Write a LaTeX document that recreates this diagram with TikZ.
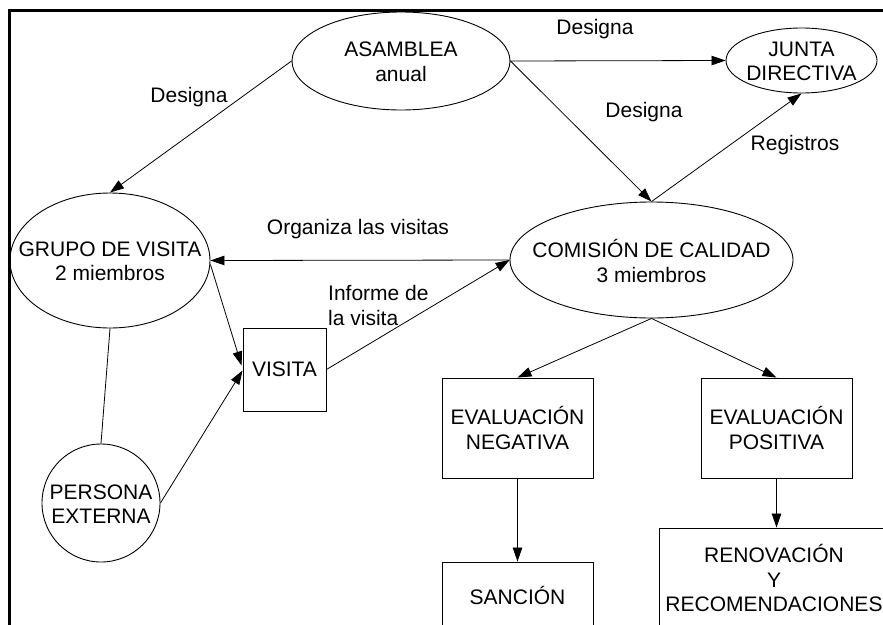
\documentclass[tikz,border=0pt]{standalone}
\usepackage{fontspec}
\setmainfont{Liberation Sans}
\usetikzlibrary{shapes.geometric,arrows.meta,calc}
\begin{document}
\begin{tikzpicture}[x=1pt,y=-1pt,
  every node/.style={font=\fontsize{21}{24.5}\selectfont},
  ell/.style={draw, ellipse, line width=0.9pt, inner sep=0pt},
  circ/.style={draw, circle, line width=0.9pt, inner sep=0pt},
  boxnode/.style={draw, rectangle, line width=0.9pt, inner sep=0pt, align=center},
  txt/.style={inner sep=0pt, align=center},
  arr/.style={line width=0.8pt, -{Triangle[length=14pt,width=9.5pt]}},
  plain/.style={line width=0.8pt},
  frameline/.style={line width=2.5pt}
]
\path[use as bounding box] (0,0) rectangle (883,624);
\clip (0,0) rectangle (883,624);
\fill[white] (0,0) rectangle (883,624);

% frame
\coordinate (fbl) at (9.3,640);
\coordinate (ftl) at (9.3,10.5);
\coordinate (ftr) at (900,10.5);
\draw[frameline] (fbl) -- (ftl) -- (ftr);

% ellipses
\node[ell, minimum width=218pt, minimum height=98pt] (asam) at (401,61) {};
\node[txt] (asamt) at ($(asam)+(0,1)$) {ASAMBLEA\\anual};
\node[ell, minimum width=151pt, minimum height=65pt] (junta) at (801.5,60.5) {};
\node[txt] (juntat) at ($(junta)+(0,1)$) {JUNTA\\DIRECTIVA};
\node[ell, minimum width=283pt, minimum height=116pt] (com) at (651.5,260) {};
\node[txt] (comt) at ($(com)+(0,1)$) {COMISIÓN DE CALIDAD\\3 miembros};
\node[ell, minimum width=200pt, minimum height=135pt] (grupo) at (110,260.5) {};
\node[txt] (grupot) at ($(grupo)+(0,1)$) {GRUPO DE VISITA\\2 miembros};
\node[circ, minimum size=118pt] (persona) at (101,503) {};
\node[txt] (personat) at ($(persona)+(0,1)$) {PERSONA\\EXTERNA};

% boxes
\node[boxnode, minimum width=83pt, minimum height=83pt] (visita) at (284.5,369.5) {VISITA};
\node[boxnode, minimum width=151pt, minimum height=100pt] (neg) at (517.5,428) {EVALUACIÓN\\NEGATIVA};
\node[boxnode, minimum width=151pt, minimum height=100pt] (pos) at (776.5,428) {EVALUACIÓN\\POSITIVA};
\node[boxnode, minimum width=151pt, minimum height=66pt] (sanc) at (517.5,595) {SANCIÓN};
\node[boxnode, minimum width=230pt, minimum height=100pt] (renov) at (774,578) {RENOVACIÓN\\Y\\RECOMENDACIONES};

% connectors
\draw[arr] (asam.west) -- (grupo.north);
\draw[arr] (asam.east) -- (junta.west);
\draw[arr] (asam.east) -- (com.north);
\draw[arr] (com.north) -- (junta.south);
\draw[arr] (com.west) -- (grupo.east);
\draw[arr] (visita.east) -- (com.west);
\draw[arr] ($(grupo.east)+(0,4)$) -- ($(visita.west)+(-1,-4)$);
\draw[arr] (persona.east) -- ($(visita.west)+(0,1)$);
\draw[plain] (grupo.south) -- (persona.north);
\draw[arr] (com.south) -- (neg.north);
\draw[arr] (com.south) -- (pos.north);
\draw[arr] (neg.south) -- (sanc.north);
\draw[arr] (pos.south) -- (pos.south |- renov.north);

% labels
\node[txt] (l1) at (189,97) {Designa};
\node[txt] (l2) at (595,29) {Designa};
\node[txt] (l3) at (644,112) {Designa};
\node[txt] (l4) at (795,145) {Registros};
\node[txt] (l5) at (358,229) {Organiza las visitas};
\node[txt, align=left, anchor=west] (l6) at (328,305.5) {Informe de\\la visita};
\end{tikzpicture}
\end{document}
